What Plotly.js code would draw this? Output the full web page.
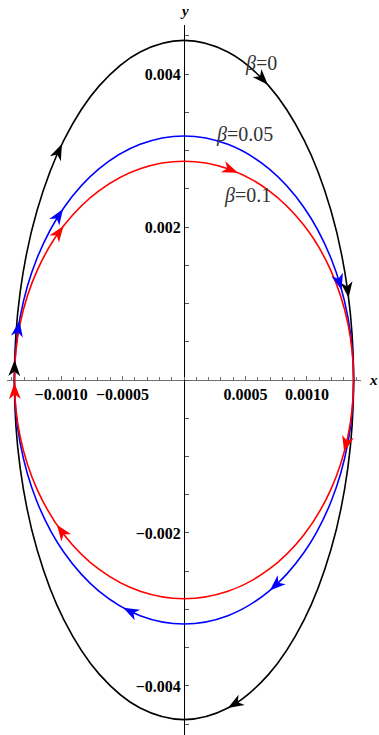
<!DOCTYPE html>
<html><head><meta charset="utf-8">
<script src="https://cdn.plot.ly/plotly-3.0.1.min.js"></script>
<style>html,body{margin:0;padding:0;background:#fff;} #chart{width:379px;height:735px;}</style>
</head><body><div id="chart"></div>
<script>
// Orbit samples, clockwise starting at the top
const xOrbit = [0, 0.000357, 0.00069, 0.000976, 0.001195, 0.001333, 0.00138, 0.001333, 0.001195, 0.000976, 0.00069, 0.000357, 0, -0.000357, -0.00069, -0.000976, -0.001195, -0.001333, -0.00138, -0.001333, -0.001195, -0.000976, -0.00069, -0.000357, 0];
const yBeta0 = [0.00444, 0.004289, 0.003845, 0.00314, 0.00222, 0.001149, 0, -0.001149, -0.00222, -0.00314, -0.003845, -0.004289, -0.00444, -0.004289, -0.003845, -0.00314, -0.00222, -0.001149, 0, 0.001149, 0.00222, 0.00314, 0.003845, 0.004289, 0.00444];
const yBeta005 = [0.00319, 0.003081, 0.002763, 0.002256, 0.001595, 0.000826, 0, -0.000826, -0.001595, -0.002256, -0.002763, -0.003081, -0.00319, -0.003081, -0.002763, -0.002256, -0.001595, -0.000826, 0, 0.000826, 0.001595, 0.002256, 0.002763, 0.003081, 0.00319];
const yBeta01 = [0.00286, 0.002763, 0.002477, 0.002022, 0.00143, 0.00074, 0, -0.00074, -0.00143, -0.002022, -0.002477, -0.002763, -0.00286, -0.002763, -0.002477, -0.002022, -0.00143, -0.00074, 0, 0.00074, 0.00143, 0.002022, 0.002477, 0.002763, 0.00286];

// Direction arrows: [tailX, tailY, tipX, tipY]
const arrowsBeta0 = [
  [0.000627, 0.003956, 0.000682, 0.00386],
  [0.001333, 0.001149, 0.001339, 0.001074],
  [0.000426, -0.004223, 0.000357, -0.004289],
  [-0.00138, 0.000116, -0.001378, 0.000261],
  [-0.001041, 0.002913, -0.000993, 0.003084]
];
const arrowsBeta005 = [
  [0.001256, 0.001323, 0.001282, 0.001178],
  [0.000772, -0.002645, 0.000698, -0.002752],
  [-0.000426, -0.003034, -0.000495, -0.002978],
  [-0.001034, 0.002114, -0.000984, 0.002236],
  [-0.00135, 0.000663, -0.001339, 0.000775]
];
const arrowsBeta01 = [
  [0.000357, 0.002763, 0.000439, 0.002711],
  [0.001323, -0.000812, 0.001303, -0.000941],
  [-0.000984, -0.002005, -0.001034, -0.001893],
  [-0.001025, 0.001914, -0.00098, 0.002013],
  [-0.001377, -0.0002, -0.00138, -0.00004]
];

const seriesNames = ['β=0', 'β=0.05', 'β=0.1'];
const seriesColors = ['#000000', '#0000ff', '#ff0000'];

const xTickVals = [-0.001, -0.0005, 0.0005, 0.001];
const xTickText = ['\u22120.0010', '\u22120.0005', '0.0005', '0.0010'];
const yTickVals = [-0.004, -0.002, 0.002, 0.004];
const yTickText = ['\u22120.004', '\u22120.002', '0.002', '0.004'];

const curves = [yBeta0, yBeta005, yBeta01];
const arrowSets = [arrowsBeta0, arrowsBeta005, arrowsBeta01];

const traces = [];
curves.forEach((ys, i) => {
  traces.push({
    x: xOrbit, y: ys, type: 'scatter', mode: 'lines', name: seriesNames[i],
    line: {color: seriesColors[i], width: 1.6, shape: 'spline', smoothing: 1},
    hoverinfo: 'skip'
  });
});

const tickFont = {family: 'Liberation Serif', size: 16, weight: 'bold', color: '#000'};
const labelFont = {family: 'Liberation Serif', size: 20, color: '#333'};

const layout = {
  width: 379, height: 735,
  margin: {l: 7, r: 18, t: 25, b: 0, pad: 0},
  paper_bgcolor: '#fff', plot_bgcolor: '#fff',
  showlegend: false,
  xaxis: {
    range: [-0.00144, 0.00144], anchor: 'free', position: 0.5,
    showline: true, linecolor: '#6e6e6e', linewidth: 1,
    ticks: 'inside', ticklen: 4, tickcolor: '#6e6e6e', tickwidth: 1,
    tickmode: 'array', tickvals: xTickVals, ticktext: xTickText,
    minor: {dtick: 0.0001, tick0: 0, ticks: 'inside', ticklen: 3, tickcolor: '#6e6e6e', showgrid: false},
    showgrid: false, zeroline: false, tickfont: tickFont, layer: 'below traces', fixedrange: true
  },
  yaxis: {
    range: [-0.004641, 0.004641], anchor: 'free', position: 0.5,
    showline: true, linecolor: '#000', linewidth: 1,
    ticks: 'inside', ticklen: 4, tickcolor: '#555', tickwidth: 1,
    tickmode: 'array', tickvals: yTickVals, ticktext: yTickText,
    minor: {dtick: 0.0005, tick0: 0, ticks: 'inside', ticklen: 4, tickcolor: '#555', showgrid: false},
    showgrid: false, zeroline: false, tickfont: tickFont, layer: 'below traces', fixedrange: true
  },
  annotations: [
    {xref: 'x', yref: 'y', x: 0.000626, y: 0.004144, text: '<i>β</i>=0', showarrow: false, font: labelFont},
    {xref: 'x', yref: 'y', x: 0.000492, y: 0.003216, text: '<i>β</i>=0.05', showarrow: false, font: labelFont},
    {xref: 'x', yref: 'y', x: 0.00052, y: 0.002418, text: '<i>β</i>=0.1', showarrow: false, font: labelFont},
    {xref: 'paper', yref: 'paper', x: 0.5, y: 1, yanchor: 'bottom', yshift: 4, text: '<i><b>y</b></i>', showarrow: false,
     font: {family: 'Liberation Serif', size: 15, color: '#000'}},
    {xref: 'paper', yref: 'paper', x: 1.018, xanchor: 'left', y: 0.5, text: '<i><b>x</b></i>', showarrow: false,
     font: {family: 'Liberation Serif', size: 15, color: '#000'}}
  ]
};

// Arrowhead geometry in pixels (styling)
const HEAD_LEN = 16, HEAD_HALF = 6, HEAD_NOTCH = 4.5;

Plotly.newPlot('chart', traces, layout, {staticPlot: true, displayModeBar: false}).then(gd => {
  const xa = gd._fullLayout.xaxis, ya = gd._fullLayout.yaxis;
  const shapes = [];
  arrowSets.forEach((set, i) => {
    set.forEach(a => {
      const sx = xa.d2p(a[0]), sy = ya.d2p(a[1]);
      const tx = xa.d2p(a[2]), ty = ya.d2p(a[3]);
      let ux = tx - sx, uy = ty - sy;
      const len = Math.hypot(ux, uy); ux /= len; uy /= len;
      const nx = -uy, ny = ux;
      const pts = [
        [tx, ty],
        [tx - HEAD_LEN * ux + HEAD_HALF * nx, ty - HEAD_LEN * uy + HEAD_HALF * ny],
        [tx - (HEAD_LEN - HEAD_NOTCH) * ux, ty - (HEAD_LEN - HEAD_NOTCH) * uy],
        [tx - HEAD_LEN * ux - HEAD_HALF * nx, ty - HEAD_LEN * uy - HEAD_HALF * ny]
      ];
      const path = pts.map((p, k) => (k ? 'L' : 'M') + xa.p2d(p[0]) + ',' + ya.p2d(p[1])).join(' ') + ' Z';
      shapes.push({type: 'path', xref: 'x', yref: 'y', path: path, fillcolor: seriesColors[i],
                   line: {width: 0}, layer: 'above'});
    });
  });
  return Plotly.relayout(gd, {shapes: shapes});
});
</script>
</body></html>
